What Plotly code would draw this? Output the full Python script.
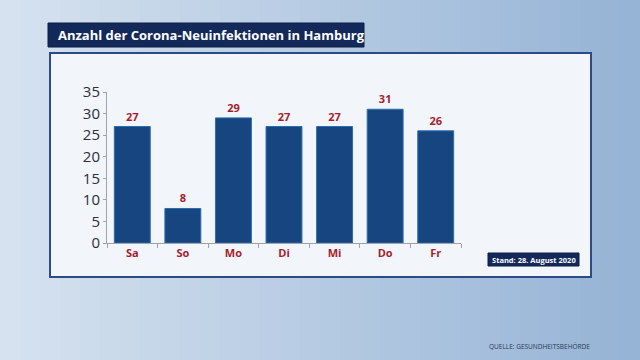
import plotly.graph_objects as go

days = ["Sa", "So", "Mo", "Di", "Mi", "Do", "Fr"]
cases = [27, 8, 29, 27, 27, 31, 26]
y_ticks = [0, 5, 10, 15, 20, 25, 30, 35]

title_text = "Anzahl der Corona-Neuinfektionen in Hamburg"
stand_text = "Stand: 28. August 2020"
source_text = "QUELLE: GESUNDHEITSBEHÖRDE"

NAVY = "#13295a"
RED = "#a51e2d"

fig = go.Figure()
fig.add_trace(go.Bar(
    x=days, y=cases,
    marker=dict(color="#17457f", line=dict(color="#2a6db0", width=1)),
    text=[str(v) for v in cases], textposition="outside",
    textfont=dict(family="Open Sans", size=11, color=RED, weight="bold"),
    cliponaxis=False,
    width=0.71,
))

shapes = []
# background horizontal gradient (decorative)
n = 32
c0 = (214, 226, 240)
c1 = (150, 180, 214)
for i in range(n):
    t = i / (n - 1)
    r = int(c0[0] + (c1[0] - c0[0]) * t)
    g = int(c0[1] + (c1[1] - c0[1]) * t)
    b = int(c0[2] + (c1[2] - c0[2]) * t)
    shapes.append(dict(type="rect", xref="paper", yref="paper", layer="below",
                       x0=-107/354 + i * (640/354) / n, x1=-107/354 + (i + 1) * (640/354) / n + 0.002,
                       y0=-117/151, y1=1 + 92/151,
                       fillcolor=f"rgb({r},{g},{b})", line=dict(width=0)))

def px_x(p):
    return (p - 107) / 354

def px_y(p):
    return (243 - p) / 151

# white panel
shapes.append(dict(type="rect", xref="paper", yref="paper", layer="below",
                   x0=px_x(50), x1=px_x(591), y0=px_y(277), y1=px_y(53),
                   fillcolor="#f2f5f9", line=dict(color="#2b4a86", width=2)))
# title box
shapes.append(dict(type="rect", xref="paper", yref="paper", layer="below",
                   x0=px_x(48), x1=px_x(364), y0=px_y(47), y1=px_y(23),
                   fillcolor=NAVY, line=dict(color="#0d1f47", width=1)))
# stand box
shapes.append(dict(type="rect", xref="paper", yref="paper", layer="below",
                   x0=px_x(488), x1=px_x(579), y0=px_y(266), y1=px_y(253),
                   fillcolor=NAVY, line=dict(color="#0d1f47", width=1)))

annotations = [
    dict(text=title_text, xref="paper", yref="paper", x=px_x(56), y=px_y(35),
         xanchor="left", yanchor="middle", showarrow=False,
         font=dict(family="Open Sans", size=13, color="white", weight="bold")),
    dict(text=stand_text, xref="paper", yref="paper", x=px_x(533.5), y=px_y(259.5),
         xanchor="center", yanchor="middle", showarrow=False,
         font=dict(family="Open Sans", size=7.5, color="white", weight="bold")),
    dict(text=source_text, xref="paper", yref="paper", x=px_x(592), y=px_y(346),
         xanchor="right", yanchor="middle", showarrow=False,
         font=dict(family="Open Sans", size=6.5, color="#2a3850")),
]

fig.update_layout(
    width=640, height=360,
    margin=dict(l=107, r=179, t=92, b=117),
    paper_bgcolor="#b8cce3", plot_bgcolor="rgba(0,0,0,0)",
    showlegend=False,
    shapes=shapes, annotations=annotations,
    xaxis=dict(showgrid=False, showline=True, linecolor="#a0a4aa", linewidth=1,
               ticks="outside", tickson="boundaries", ticklen=4, tickcolor="#a0a4aa",
               tickfont=dict(family="Open Sans", size=11, color=RED, weight="bold"),
               fixedrange=True),
    yaxis=dict(range=[0, 35], tickvals=y_ticks, showgrid=False, zeroline=False,
               showline=True, linecolor="#a0a4aa", linewidth=1,
               ticks="outside", ticklen=3, tickcolor="#a0a4aa",
               tickfont=dict(family="Open Sans", size=15, color="#2a2f3a"),
               fixedrange=True),
)

fig.write_html("out.html", config={"displayModeBar": False},
               post_script="document.body.style.margin='0';document.body.style.overflow='hidden';")
